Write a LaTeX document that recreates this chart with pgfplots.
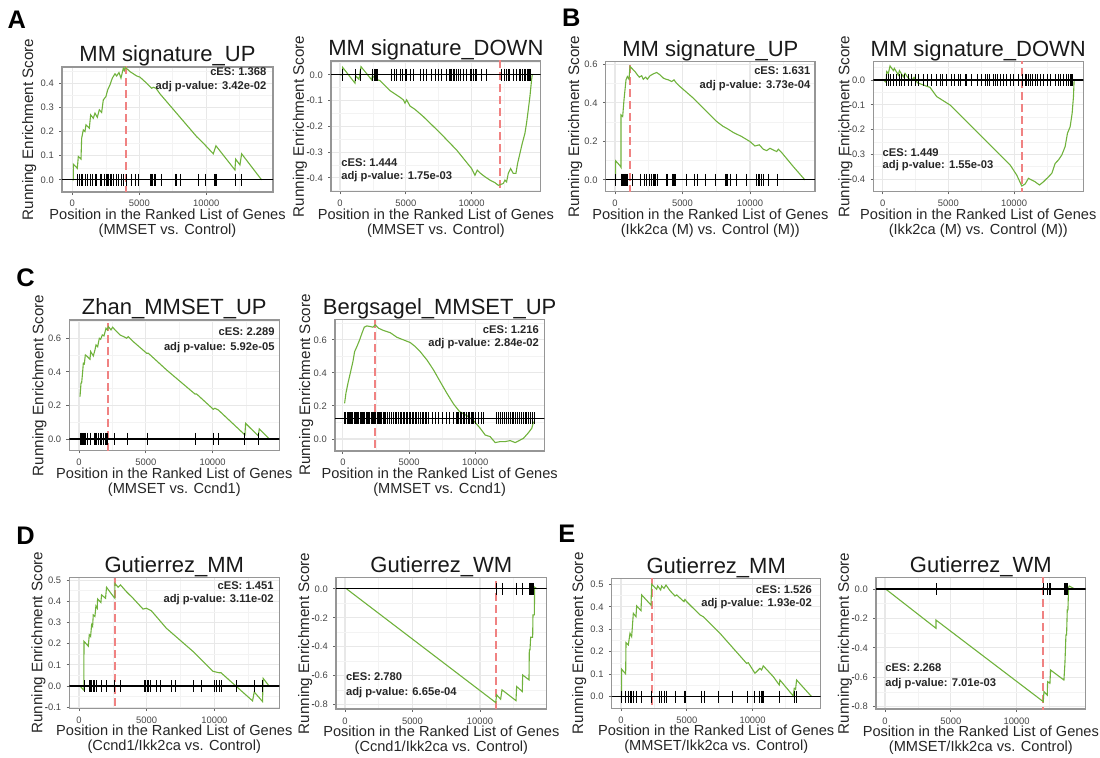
\documentclass[border=0pt]{standalone}
\usepackage{fontspec}
\setmainfont{Liberation Sans}
\usepackage{pgfplots}
\pgfplotsset{compat=1.18}
\definecolor{esgreen}{RGB}{112,178,60}
\definecolor{redline}{RGB}{240,130,130}
\definecolor{border}{RGB}{150,150,150}
\definecolor{gridmaj}{RGB}{232,232,232}
\definecolor{gridmin}{RGB}{243,243,243}
\definecolor{ticklab}{RGB}{70,70,70}
\newcommand{\mn}{\textbf{-}}
\tikzset{ces/.style={font=\fontsize{5.6}{6}\selectfont\bfseries, text=black!85, inner sep=0pt},
  plet/.style={font=\fontsize{12.7}{13}\selectfont\bfseries, anchor=base west, inner sep=0pt}}
\pgfplotsset{
  gsea/.style={
    scale only axis, anchor=south west,
    axis line style={draw=border, line width=0.55pt},
    scaled x ticks=false, scaled y ticks=false,
    xtick={0,5000,10000}, xticklabels={0,5000,10000}, minor xtick={2500,7500,12500},
    xtick pos=bottom, ytick pos=left,
    tick align=outside, major tick length=1.4pt, minor tick length=0pt,
    tick style={draw=black!60, line width=0.45pt},
    grid=both, major grid style={draw=gridmaj, line width=0.55pt}, minor grid style={draw=gridmin, line width=0.3pt},
    every axis title shift=0pt,
    xticklabel style={anchor=base, yshift=-6.1pt, inner sep=0pt},
    yticklabel style={anchor=east, xshift=-2.5pt, inner sep=0pt},
    ticklabel style={font=\fontsize{4.7}{5}\selectfont, text=ticklab},
    title style={font=\fontsize{11}{12}\selectfont, at={(0.5,1)}, anchor=base, yshift=2.5pt, inner sep=0pt, text=black!90},
    xlabel style={font=\fontsize{7.3}{7.5}\selectfont, align=center, at={(0.5,0)}, anchor=north, yshift=-8.2pt, inner sep=0pt, text=black!85},
    ylabel style={font=\fontsize{7.6}{7.8}\selectfont, anchor=base, inner sep=0pt, text=black!85},
    ylabel={Running Enrichment Score},
  },
  es/.style={esgreen, line width=0.55pt, no marks},
  rug/.style={only marks, mark=|, mark size=3pt, mark options={black, line width=0.45pt}},
  zero/.style={black, line width=0.55pt, no marks},
  peak/.style={redline, dash pattern=on 4pt off 2pt, line width=0.85pt, no marks},
}
\begin{document}
\begin{tikzpicture}
\useasboundingbox (0,0) rectangle (550pt,378.5pt);
\node[plet] at (3.65pt,364.35pt) {A};
\node[plet] at (280.85pt,365.15pt) {B};
\node[plet] at (8pt,235.5pt) {C};
\node[plet] at (8pt,106.5pt) {D};
\node[plet] at (279pt,107pt) {E};

% ---------------- A1
\begin{axis}[gsea, at={(31pt,282.5pt)}, width=105.5pt, height=62.5pt,
  xmin=-770, xmax=14980, ymin=-0.05, ymax=0.467,
  ytick={0,0.1,0.2,0.3,0.4}, yticklabels={0.0,0.1,0.2,0.3,0.4}, minor ytick={0.05,0.15,0.25,0.35,0.45},
  title={MM signature\_UP},
  xlabel={Position in the Ranked List of Genes\\(MMSET vs. Control)},
  ylabel style={at={(-0.1374,0.5)}}]
\addplot[peak] coordinates {(4006,-1) (4006,1)};
\addplot[es] coordinates {(0,0)(75,0)(75,0.065)(373,0.048)(448,0.097)(647,0.086)(697,0.172)(821,0.207)(945,0.2)(1020,0.228)(1269,0.214)(1368,0.269)(1567,0.255)(1692,0.276)(1866,0.259)(2015,0.29)(2189,0.279)(2314,0.331)(2513,0.345)(2637,0.372)(2811,0.393)(2986,0.421)(3185,0.439)(3309,0.43)(3483,0.444)(3632,0.421)(3807,0.462)(3880,0.452)(3956,0.466)(4304,0.448)(4553,0.439)(4802,0.43)(5051,0.425)(5548,0.4)(5921,0.379)(6046,0.383)(6245,0.379)(6543,0.356)(9280,0.179)(9778,0.152)(10524,0.108)(10723,0.141)(12141,0.041)(12191,0.086)(12514,0.062)(12639,0.108)(14132,0)};
\addplot[zero] coordinates {(-2000,0) (17000,0)};
\addplot[rug] coordinates {(373,0)(522,0)(647,0)(771,0)(945,0)(1120,0)(1319,0)(1518,0)(1692,0)(1816,0)(2065,0)(2189,0)(2364,0)(2513,0)(2612,0)(2687,0)(2811,0)(2886,0)(3060,0)(3309,0)(3433,0)(3632,0)(3807,0)(4006,0)(4429,0)(4677,0)(4926,0)(5797,0)(5921,0)(5996,0)(6096,0)(6170,0)(6618,0)(7663,0)(7787,0)(8086,0)(9405,0)(9902,0)(10599,0)(10673,0)(10723,0)(12141,0)(12639,0)};
\node[ces, anchor=base east, xshift=-3.15pt, yshift=-4.5pt] at (rel axis cs:1,1) {cES: 1.368};
\node[ces, anchor=base east, xshift=-3.15pt, yshift=-11.35pt] at (rel axis cs:1,1) {adj p-value: 3.42e-02};
\end{axis}

% ---------------- A2
\begin{axis}[gsea, at={(165.5pt,282.65pt)}, width=104.85pt, height=65.35pt,
  xmin=-684, xmax=15251, ymin=-0.454, ymax=0.054,
  ytick={-0.4,-0.3,-0.2,-0.1,0}, yticklabels={\mn0.4,\mn0.3,\mn0.2,\mn0.1,0.0}, minor ytick={-0.45,-0.35,-0.25,-0.15,-0.05,0.05},
  title={MM signature\_DOWN},
  xlabel={Position in the Ranked List of Genes\\(MMSET vs. Control)},
  ylabel style={at={(-0.1288,0.5)}}]
\addplot[peak] coordinates {(12154,-1) (12154,1)};
\addplot[es] coordinates {(0,0)(203,0)(203,0.029)(1139,-0.032)(1190,-0.004)(1443,-0.017)(1595,0.032)(2405,-0.019)(2456,-0.004)(2836,-0.019)(3038,-0.022)(3798,-0.061)(4558,-0.087)(4811,-0.097)(4937,-0.11)(5064,-0.097)(5317,-0.121)(5697,-0.134)(6330,-0.162)(7596,-0.225)(8862,-0.292)(10001,-0.364)(10255,-0.39)(10432,-0.37)(10685,-0.383)(11014,-0.396)(11394,-0.409)(11774,-0.419)(12027,-0.429)(12204,-0.426)(12407,-0.422)(12533,-0.409)(12660,-0.416)(12787,-0.383)(12964,-0.364)(13166,-0.383)(13369,-0.383)(13496,-0.344)(13673,-0.305)(13850,-0.266)(14053,-0.227)(14180,-0.186)(14306,-0.136)(14432,-0.084)(14559,-0.019)(14610,0)};
\addplot[zero] coordinates {(-2000,0) (17000,0)};
\addplot[rug] coordinates {(203,0)(1190,0)(1570,0)(2481,0)(2583,0)(2684,0)(2785,0)(2861,0)(3925,0)(4102,0)(4304,0)(4558,0)(4760,0)(4937,0)(5013,0)(5317,0)(5570,0)(6077,0)(6330,0)(6583,0)(6963,0)(7267,0)(7469,0)(7723,0)(8052,0)(8305,0)(8406,0)(8482,0)(8609,0)(8710,0)(8862,0)(8989,0)(9166,0)(9368,0)(9622,0)(9875,0)(10001,0)(10128,0)(10280,0)(10381,0)(10761,0)(11141,0)(12280,0)(12533,0)(12660,0)(12787,0)(12913,0)(13166,0)(13420,0)(13622,0)(13749,0)(13876,0)(14002,0)(14129,0)(14230,0)(14331,0)(14407,0)(14483,0)};
\node[ces, anchor=base west, xshift=5pt, yshift=12.45pt] at (rel axis cs:0,0) {cES: 1.444};
\node[ces, anchor=base west, xshift=5pt, yshift=6.25pt] at (rel axis cs:0,0) {adj p-value: 1.75e-03};
\end{axis}

% ---------------- B1
\begin{axis}[gsea, at={(302.85pt,282.65pt)}, width=104.65pt, height=65pt,
  xmin=-689, xmax=14815, ymin=-0.061, ymax=0.613,
  ytick={0,0.2,0.4,0.6}, yticklabels={0.0,0.2,0.4,0.6}, minor ytick={0.1,0.3,0.5},
  title={MM signature\_UP},
  xlabel={Position in the Ranked List of Genes\\(Ikk2ca (M) vs. Control (M))},
  ylabel style={at={(-0.1266,0.5)}}]
\addplot[peak] coordinates {(1111,-1) (1111,1)};
\addplot[es] coordinates {(0,0)(49,0)(49,0.099)(370,0.074)(444,0.065)(444,0.337)(568,0.329)(667,0.415)(741,0.467)(815,0.519)(914,0.536)(1037,0.522)(1111,0.588)(1481,0.562)(1654,0.545)(1802,0.533)(1975,0.54)(2099,0.522)(2271,0.533)(2395,0.522)(2592,0.54)(2839,0.55)(3086,0.557)(3333,0.545)(3580,0.528)(3778,0.522)(3950,0.519)(4197,0.51)(4370,0.519)(4518,0.505)(4815,0.484)(5802,0.424)(6790,0.355)(7530,0.303)(8024,0.277)(8271,0.268)(8765,0.246)(9382,0.225)(9999,0.199)(10370,0.176)(10691,0.182)(10987,0.159)(11234,0.152)(11481,0.164)(11975,0.147)(12098,0.159)(12345,0.142)(13209,0.069)(14073,0)};
\addplot[zero] coordinates {(-2000,0) (17000,0)};
\addplot[rug] coordinates {(49,0)(444,0)(494,0)(568,0)(617,0)(667,0)(741,0)(790,0)(839,0)(914,0)(1309,0)(1901,0)(2148,0)(2346,0)(2543,0)(2716,0)(2839,0)(2938,0)(3012,0)(3160,0)(3778,0)(3876,0)(4247,0)(4321,0)(4370,0)(4444,0)(5308,0)(5876,0)(6123,0)(6666,0)(7407,0)(8148,0)(8222,0)(8271,0)(8345,0)(8518,0)(9012,0)(9703,0)(10493,0)(10617,0)(10691,0)(10814,0)(10987,0)(11357,0)(12024,0)};
\node[ces, anchor=base east, xshift=-2.15pt, yshift=-6.4pt] at (rel axis cs:1,1) {cES: 1.631};
\node[ces, anchor=base east, xshift=-2.15pt, yshift=-13.4pt] at (rel axis cs:1,1) {adj p-value: 3.73e-04};
\end{axis}

% ---------------- B2
\begin{axis}[gsea, at={(436.65pt,282.65pt)}, width=105pt, height=65pt,
  xmin=-715, xmax=15266, ymin=-0.451, ymax=0.074,
  ytick={-0.4,-0.3,-0.2,-0.1,0}, yticklabels={\mn0.4,\mn0.3,\mn0.2,\mn0.1,0.0}, minor ytick={-0.45,-0.35,-0.25,-0.15,-0.05,0.05},
  title={MM signature\_DOWN},
  xlabel={Position in the Ranked List of Genes\\(Ikk2ca (M) vs. Control (M))},
  ylabel style={at={(-0.1143,0.5)}}]
\addplot[peak] coordinates {(10583,-1) (10583,1)};
\addplot[es] coordinates {(0,0)(51,0)(254,-0.009)(305,0.034)(431,0.027)(558,0.057)(812,0.038)(888,0.047)(1193,0.02)(1269,0.038)(1574,0.013)(1700,0.027)(1954,0.007)(2208,-0.003)(2386,0.011)(2640,-0.011)(3096,-0.02)(3604,-0.03)(4112,-0.067)(5127,-0.101)(5888,-0.141)(6903,-0.195)(7919,-0.249)(8934,-0.303)(9695,-0.343)(10203,-0.384)(10583,-0.428)(10837,-0.42)(11091,-0.397)(11345,-0.404)(11599,-0.411)(11929,-0.424)(12233,-0.411)(12614,-0.391)(12868,-0.377)(13121,-0.337)(13375,-0.323)(13629,-0.303)(13883,-0.269)(14061,-0.215)(14264,-0.189)(14416,-0.135)(14518,-0.067)(14568,0)};
\addplot[zero] coordinates {(-2000,0) (17000,0)};
\addplot[rug] coordinates {(305,0)(431,0)(558,0)(812,0)(1066,0)(1269,0)(1447,0)(1650,0)(1954,0)(2208,0)(2462,0)(2716,0)(3096,0)(3401,0)(3731,0)(4112,0)(4365,0)(4568,0)(4873,0)(5254,0)(5431,0)(5761,0)(5939,0)(6269,0)(6396,0)(6776,0)(7208,0)(7538,0)(7842,0)(7969,0)(8122,0)(8426,0)(8578,0)(8731,0)(8934,0)(9188,0)(9442,0)(9695,0)(9949,0)(10330,0)(10660,0)(10837,0)(10964,0)(11091,0)(11218,0)(11396,0)(11599,0)(11802,0)(11980,0)(12233,0)(12538,0)(12792,0)(13121,0)(13375,0)(13553,0)(13756,0)(13959,0)(14137,0)(14264,0)(14366,0)(14467,0)};
\node[ces, anchor=base west, xshift=4.5pt, yshift=17.45pt] at (rel axis cs:0,0) {cES: 1.449};
\node[ces, anchor=base west, xshift=4.5pt, yshift=11.6pt] at (rel axis cs:0,0) {adj p-value: 1.55e-03};
\end{axis}

% ---------------- C1
\begin{axis}[gsea, at={(34.65pt,153.15pt)}, width=105pt, height=65.35pt,
  xmin=-726, xmax=14993, ymin=-0.07, ymax=0.709,
  ytick={0,0.2,0.4,0.6}, yticklabels={0.0,0.2,0.4,0.6}, minor ytick={0.1,0.3,0.5,0.7},
  title={Zhan\_MMSET\_UP},
  xlabel={Position in the Ranked List of Genes\\(MMSET vs. Ccnd1)},
  ylabel style={at={(-0.1238,0.5)}}]
\addplot[peak] coordinates {(2145,-1) (2145,1)};
\addplot[es] coordinates {(75,0.252)(150,0.332)(200,0.336)(274,0.401)(324,0.451)(399,0.447)(474,0.501)(624,0.491)(823,0.475)(873,0.521)(1072,0.495)(1197,0.531)(1272,0.56)(1397,0.55)(1521,0.6)(1621,0.594)(1746,0.62)(1871,0.614)(2020,0.66)(2120,0.65)(2195,0.67)(2394,0.65)(2519,0.666)(2694,0.65)(3068,0.62)(3442,0.606)(3567,0.6)(3691,0.61)(4065,0.58)(5063,0.511)(5188,0.511)(6559,0.411)(8679,0.268)(8804,0.268)(10051,0.177)(10176,0.183)(10425,0.173)(12420,0.024)(12470,0.093)(13418,0.018)(13493,0.06)(14241,0)};
\addplot[zero] coordinates {(-2000,0) (17000,0)};
\addplot[rug] coordinates {(75,0)(150,0)(200,0)(274,0)(324,0)(399,0)(474,0)(624,0)(823,0)(873,0)(1147,0)(1222,0)(1322,0)(1447,0)(1571,0)(1696,0)(1821,0)(1945,0)(2020,0)(2120,0)(2644,0)(3616,0)(5138,0)(8729,0)(10101,0)(10425,0)(12420,0)(13468,0)};
\node[ces, anchor=base east, xshift=-2.15pt, yshift=-7.6pt] at (rel axis cs:1,1) {cES: 2.289};
\node[ces, anchor=base east, xshift=-2.15pt, yshift=-15.1pt] at (rel axis cs:1,1) {adj p-value: 5.92e-05};
\end{axis}

% ---------------- C2
\begin{axis}[gsea, at={(167.5pt,153pt)}, width=104.65pt, height=65.85pt,
  xmin=-600, xmax=15227, ymin=-0.073, ymax=0.725,
  ytick={0,0.2,0.4,0.6}, yticklabels={0.0,0.2,0.4,0.6}, minor ytick={0.1,0.3,0.5,0.7},
  title={Bergsagel\_MMSET\_UP},
  xlabel={Position in the Ranked List of Genes\\(MMSET vs. Ccnd1)},
  ylabel style={at={(-0.1194,0.5)}}]
\addplot[peak] coordinates {(2443,-1) (2443,1)};
\addplot[es] coordinates {(126,0.216)(227,0.277)(378,0.337)(554,0.398)(756,0.469)(882,0.529)(1058,0.56)(1260,0.6)(1436,0.64)(1612,0.677)(1814,0.685)(2066,0.681)(2267,0.677)(2443,0.691)(2695,0.671)(3073,0.657)(3577,0.644)(4081,0.616)(4585,0.6)(5088,0.584)(5466,0.56)(5844,0.529)(6348,0.479)(6852,0.418)(7355,0.347)(7859,0.277)(8363,0.212)(8817,0.166)(9371,0.141)(9874,0.111)(10378,0.065)(10756,0.024)(11134,0.014)(11512,-0.022)(11890,-0.016)(12268,-0.016)(12645,-0.01)(13023,-0.022)(13275,-0.012)(13653,0.004)(14031,0.038)(14283,0.065)(14409,0.105)};
\addplot[zero] coordinates {(-2000,0.125) (17000,0.125)};
\addplot[rug, mark options={black, line width=0.4pt}] coordinates {(126,0.125)(214,0.125)(301,0.125)(398,0.125)(489,0.125)(583,0.125)(668,0.125)(752,0.125)(846,0.125)(938,0.125)(1024,0.125)(1118,0.125)(1203,0.125)(1297,0.125)(1392,0.125)(1478,0.125)(1569,0.125)(1660,0.125)(1750,0.125)(1848,0.125)(1935,0.125)(2027,0.125)(2121,0.125)(2211,0.125)(2301,0.125)(2390,0.125)(2484,0.125)(2574,0.125)(2668,0.125)(2760,0.125)(2852,0.125)(2944,0.125)(3038,0.125)(3132,0.125)(3180,0.125)(3390,0.125)(3528,0.125)(3672,0.125)(3820,0.125)(3955,0.125)(4030,0.125)(4205,0.125)(4318,0.125)(4431,0.125)(4546,0.125)(4660,0.125)(4770,0.125)(4886,0.125)(5001,0.125)(5117,0.125)(5230,0.125)(5345,0.125)(5462,0.125)(5581,0.125)(5703,0.125)(5836,0.125)(5977,0.125)(6118,0.125)(6266,0.125)(6335,0.125)(6480,0.125)(6730,0.125)(7018,0.125)(7247,0.125)(7512,0.125)(7795,0.125)(8066,0.125)(8330,0.125)(8560,0.125)(8640,0.125)(8751,0.125)(8862,0.125)(8981,0.125)(9098,0.125)(9212,0.125)(9332,0.125)(9452,0.125)(9571,0.125)(9690,0.125)(9815,0.125)(9870,0.125)(10010,0.125)(10245,0.125)(10495,0.125)(10640,0.125)(11630,0.125)(11776,0.125)(11918,0.125)(12063,0.125)(12211,0.125)(12360,0.125)(12506,0.125)(12652,0.125)(12806,0.125)(12880,0.125)(13030,0.125)(13178,0.125)(13322,0.125)(13469,0.125)(13612,0.125)(13760,0.125)(13905,0.125)(14050,0.125)(14198,0.125)(14344,0.125)(14480,0.125)};
\node[ces, anchor=base east, xshift=-2.5pt, yshift=-7.1pt] at (rel axis cs:1,1) {cES: 1.216};
\node[ces, anchor=base east, xshift=-2.5pt, yshift=-13.45pt] at (rel axis cs:1,1) {adj p-value: 2.84e-02};
\end{axis}

% ---------------- D1
\begin{axis}[gsea, at={(34.65pt,24.35pt)}, width=105pt, height=65.5pt,
  xmin=-716, xmax=14793, ymin=-0.105, ymax=0.513,
  ytick={-0.1,0,0.1,0.2,0.3,0.4,0.5}, yticklabels={\mn0.1,0.0,0.1,0.2,0.3,0.4,0.5}, minor ytick={-0.05,0.05,0.15,0.25,0.35,0.45},
  title={Gutierrez\_MM},
  xlabel={Position in the Ranked List of Genes\\(Ccnd1/Ikk2ca vs. Control)},
  ylabel style={at={(-0.1286,0.5)}}]
\addplot[peak] coordinates {(2647,-1) (2647,1)};
\addplot[es] coordinates {(74,0)(360,-0.02)(368,0.211)(686,0.188)(760,0.242)(858,0.234)(931,0.289)(1005,0.281)(1054,0.336)(1176,0.328)(1250,0.378)(1348,0.367)(1373,0.411)(1618,0.394)(1667,0.43)(1961,0.414)(2034,0.466)(2402,0.434)(2647,0.414)(2647,0.484)(2892,0.466)(3064,0.477)(3505,0.445)(3995,0.414)(4731,0.363)(4976,0.367)(5343,0.355)(5711,0.328)(6446,0.273)(8407,0.164)(9020,0.125)(9878,0.07)(10123,0.066)(10368,0.0625)(10491,0.0625)(12819,-0.07)(12941,-0.028)(13554,-0.073)(13603,0.036)(14044,0)};
\addplot[zero] coordinates {(-2000,0) (17000,0)};
\addplot[rug] coordinates {(368,0)(760,0)(858,0)(956,0)(1054,0)(1176,0)(1299,0)(1667,0)(2034,0)(2647,0)(3064,0)(4853,0)(4927,0)(5025,0)(5147,0)(5270,0)(5711,0)(6029,0)(6814,0)(7132,0)(8481,0)(9069,0)(10000,0)(10123,0)(10368,0)(10539,0)(11642,0)(12941,0)(13554,0)};
\node[ces, anchor=base east, xshift=-2.65pt, yshift=-6.1pt] at (rel axis cs:1,1) {cES: 1.451};
\node[ces, anchor=base east, xshift=-2.65pt, yshift=-12.75pt] at (rel axis cs:1,1) {adj p-value: 3.11e-02};
\end{axis}

% ---------------- D2
\begin{axis}[gsea, at={(168pt,24pt)}, width=105.35pt, height=65.65pt,
  xmin=-667, xmax=14941, ymin=-0.833, ymax=0.078,
  ytick={-0.8,-0.6,-0.4,-0.2,0}, yticklabels={\mn0.8,\mn0.6,\mn0.4,\mn0.2,0.0}, minor ytick={-0.7,-0.5,-0.3,-0.1},
  title={Gutierrez\_WM},
  xlabel={Position in the Ranked List of Genes\\(Ccnd1/Ikk2ca vs. Control)},
  ylabel style={at={(-0.1281,0.5)}}]
\addplot[peak] coordinates {(11185,-2) (11185,1)};
\addplot[es] coordinates {(123,0)(11160,-0.788)(11234,-0.735)(11530,-0.765)(11629,-0.70)(12666,-0.775)(12715,-0.677)(13135,-0.712)(13160,-0.597)(13629,-0.631)(13654,-0.423)(13703,-0.423)(13753,-0.335)(13901,-0.335)(13925,-0.18)(14024,-0.18)(14049,0.012)(14246,0)};
\addplot[zero] coordinates {(-2000,0) (17000,0)};
\addplot[rug] coordinates {(11234,0)(11629,0)(12715,0)(13135,0)(13629,0)(13703,0)(13753,0)(13827,0)(13901,0)(13975,0)};
\node[ces, anchor=base west, xshift=4.85pt, yshift=14.1pt] at (rel axis cs:0,0) {cES: 2.780};
\node[ces, anchor=base west, xshift=4.85pt, yshift=6.9pt] at (rel axis cs:0,0) {adj p-value: 6.65e-04};
\end{axis}

% ---------------- E1
\begin{axis}[gsea, at={(305.85pt,24.35pt)}, width=104.5pt, height=65pt,
  xmin=-707, xmax=15175, ymin=-0.052, ymax=0.527,
  ytick={0,0.1,0.2,0.3,0.4,0.5}, yticklabels={0.0,0.1,0.2,0.3,0.4,0.5}, minor ytick={0.05,0.15,0.25,0.35,0.45},
  title={Gutierrez\_MM},
  xlabel={Position in the Ranked List of Genes\\(MMSET/Ikk2ca vs. Control)},
  ylabel style={at={(-0.1364,0.5)}}]
\addplot[peak] coordinates {(2329,-1) (2329,1)};
\addplot[es] coordinates {(51,0)(51,0.122)(354,0.101)(380,0.24)(557,0.23)(684,0.282)(810,0.267)(937,0.371)(1139,0.356)(1190,0.404)(1519,0.383)(1570,0.453)(2279,0.408)(2329,0.5)(2709,0.478)(2785,0.493)(3013,0.475)(3089,0.493)(3266,0.482)(3418,0.497)(3722,0.472)(4102,0.448)(4228,0.453)(4785,0.423)(4861,0.433)(4988,0.423)(6000,0.364)(6254,0.356)(6507,0.341)(7520,0.282)(8533,0.215)(9546,0.148)(9672,0.151)(10178,0.104)(10558,0.126)(10685,0.119)(10811,0.137)(11571,0.089)(12026,0.052)(12077,0.074)(13090,0.003)(13166,0.037)(13267,0.033)(13343,0.074)(14483,0)};
\addplot[zero] coordinates {(-2000,0) (17000,0)};
\addplot[rug] coordinates {(51,0)(354,0)(557,0)(684,0)(810,0)(937,0)(1190,0)(1570,0)(2329,0)(2912,0)(3089,0)(3266,0)(3418,0)(4102,0)(4785,0)(4861,0)(6127,0)(6305,0)(7393,0)(8482,0)(9622,0)(10178,0)(10558,0)(10685,0)(10761,0)(10811,0)(12077,0)(13216,0)(13343,0)};
\node[ces, anchor=base east, xshift=-4.2pt, yshift=-7.6pt] at (rel axis cs:1,1) {cES: 1.526};
\node[ces, anchor=base east, xshift=-4.2pt, yshift=-14.25pt] at (rel axis cs:1,1) {adj p-value: 1.93e-02};
\end{axis}

% ---------------- E2
\begin{axis}[gsea, at={(438pt,24pt)}, width=104.85pt, height=65.65pt,
  xmin=-684, xmax=15251, ymin=-0.816, ymax=0.077,
  ytick={-0.8,-0.6,-0.4,-0.2,0}, yticklabels={\mn0.8,\mn0.6,\mn0.4,\mn0.2,0.0}, minor ytick={-0.7,-0.5,-0.3,-0.1},
  title={Gutierrez\_WM},
  xlabel={Position in the Ranked List of Genes\\(MMSET/Ikk2ca vs. Control)},
  ylabel style={at={(-0.1288,0.5)}}]
\addplot[peak] coordinates {(12027,-2) (12027,1)};
\addplot[es] coordinates {(51,0)(3874,-0.267)(3874,-0.211)(12027,-0.766)(12078,-0.698)(12331,-0.721)(12356,-0.63)(12533,-0.641)(12584,-0.551)(13597,-0.619)(13673,-0.505)(13749,-0.313)(13799,-0.313)(13850,-0.143)(13901,-0.143)(13951,0.011)(14002,0.02)(14432,0)};
\addplot[zero] coordinates {(-2000,0) (17000,0)};
\addplot[rug] coordinates {(3874,0)(12078,0)(12331,0)(12533,0)(12584,0)(13673,0)(13749,0)(13799,0)(13850,0)};
\node[ces, anchor=base west, xshift=4.5pt, yshift=18.6pt] at (rel axis cs:0,0) {cES: 2.268};
\node[ces, anchor=base west, xshift=4.5pt, yshift=11.4pt] at (rel axis cs:0,0) {adj p-value: 7.01e-03};
\end{axis}
\end{tikzpicture}
\end{document}
